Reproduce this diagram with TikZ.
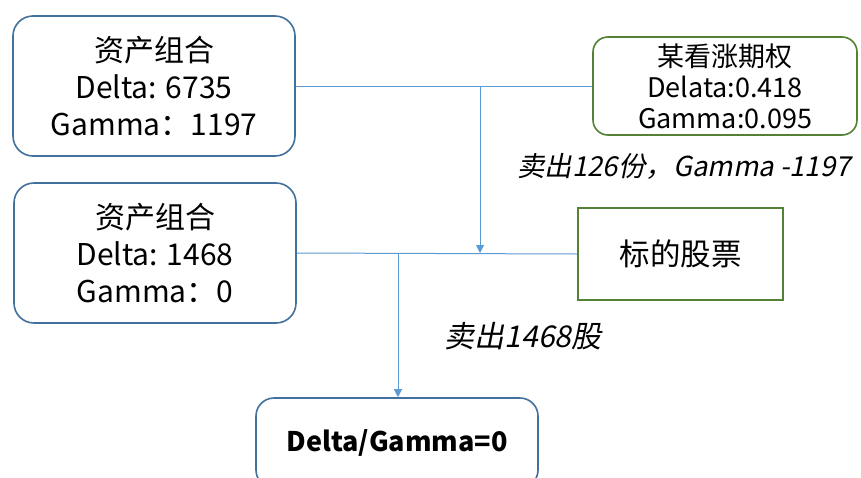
\documentclass[tikz,border=0pt]{standalone}
\usepackage{fontspec}
\setmainfont{Noto Sans CJK SC}
\newfontfamily\slantfont[FakeSlant=0.2]{Noto Sans CJK SC}
\usetikzlibrary{arrows.meta}
\definecolor{boxblue}{HTML}{41719C}
\definecolor{boxgreen}{HTML}{548235}
\definecolor{linkblue}{HTML}{5B9BD5}
\tikzset{
  bluebox/.style={draw=boxblue, line width=1.6pt, rounded corners=20pt, align=center, inner sep=0pt},
  greenbox/.style={draw=boxgreen, line width=1.6pt, align=center, inner sep=0pt},
  link/.style={draw=linkblue, line width=1pt},
  arrowlink/.style={link, -{Triangle[width=8pt,length=8pt]}},
  lbl/.style={font=\slantfont\fontsize{27.5}{30}\selectfont, inner sep=0pt},
}
\begin{document}
\begin{tikzpicture}[x=1pt,y=-1pt]
\clip (0,0) rectangle (861,477);
\useasboundingbox (0,0) rectangle (861,477);
\fill[white] (0,0) rectangle (861,477);
\node[bluebox, minimum width=282pt, minimum height=140pt, font=\fontsize{30}{37}\selectfont] (p1) at (154,86) {资产组合\\Delta: 6735\\Gamma：1197};
\node[bluebox, minimum width=282pt, minimum height=140pt, font=\fontsize{30}{37}\selectfont] (p2) at (155,253) {资产组合\\Delta: 1468\\Gamma：0};
\node[greenbox, rounded corners=15pt, minimum width=264pt, minimum height=98pt, font=\fontsize{27}{31}\selectfont] (opt) at (725,86) {某看涨期权\\Delata:0.418\\Gamma:0.095};
\node[greenbox, minimum width=205pt, minimum height=92pt, font=\fontsize{30.5}{34}\selectfont] (stk) at (680.5,254) {标的股票};
\node[bluebox, rounded corners=18pt, minimum width=282pt, minimum height=90pt, font=\bfseries\fontsize{27}{30}\selectfont] (res) at (397,443) {Delta/Gamma=0};
\draw[link] (p1.east) -- (opt.west);
\draw[link] (p2.east) -- (stk.west);
\coordinate (j1) at (480,86);
\coordinate (j2) at (398,254);
\draw[arrowlink] (j1) -- (j1 |- p2.east);
\draw[arrowlink] (j2) -- (j2 |- res.north);
\node[lbl] (l1) at (684,166) {卖出126份，Gamma -1197};
\node[lbl, font=\slantfont\fontsize{30}{32}\selectfont] (l2) at (523,336) {卖出1468股};
\end{tikzpicture}
\end{document}
